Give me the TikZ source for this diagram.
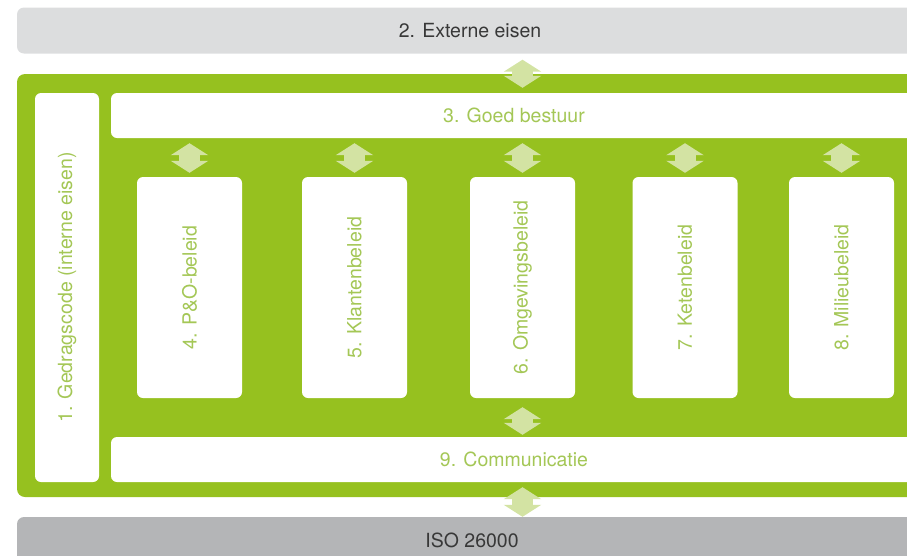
\documentclass[tikz,border=0pt]{standalone}
\usepackage{fontspec}
\setmainfont{TeX Gyre Heros}
\usepackage{tikz}
\usetikzlibrary{arrows.meta}
\usetikzlibrary{calc}
\definecolor{panelgreen}{HTML}{96C11F}
\definecolor{textgreen}{HTML}{A4C756}
\definecolor{arrowgreen}{HTML}{D3E3A3}
\definecolor{lightbar}{HTML}{DCDDDE}
\definecolor{darkbar}{HTML}{B4B5B7}
\definecolor{bartext}{HTML}{383838}
\newcommand{\labelfont}{\fontsize{19.5}{22}\selectfont}

\begin{document}
\begin{tikzpicture}[
    x=1pt, y=-1pt,
    every node/.style={inner sep=0pt, font=\labelfont},
    bar/.style={rounded corners=7pt, minimum height=46pt, text=bartext},
    whitebox/.style={fill=white, rounded corners=6pt, text=textgreen},
    strip/.style={whitebox, minimum height=45pt},
    policy/.style={whitebox, minimum width=105pt, minimum height=221pt},
    dblarrow/.style={arrowgreen, line width=21pt,
        {Triangle[width=37pt,length=12pt]}-{Triangle[width=37pt,length=12pt]}}
    ]

    \clip (0,0) rectangle (907,555);

    % outer bars
    \node[bar, fill=lightbar, minimum width=906pt] (externe) at (470,30.5) {2. Externe eisen};
    \node[bar, fill=darkbar, minimum width=910pt] (iso) at (472,540) {ISO 26000};
    % green panel
    \node[fill=panelgreen, rounded corners=8pt, minimum width=910pt, minimum height=423pt] (panel) at (472,285.5) {};
    % white strips
    \node[whitebox, minimum width=64pt, minimum height=389pt] (gedrag) at (67,287.5)
        {\rotatebox{90}{1. Gedragscode (interne eisen)}};
    \node[strip, minimum width=806pt] (bestuur) at (514,115.5) {3. Goed bestuur};
    \node[strip, minimum width=806pt] (communicatie) at (514,459.5) {9. Communicatie};
    % policy boxes
    \node[policy] (po) at (189.5,287.5) {\rotatebox{90}{4. P\&O-beleid}};
    \node[policy] (klanten) at (354.5,287.5) {\rotatebox{90}{5. Klantenbeleid}};
    \node[policy] (omgeving) at (522.5,287.5) {\rotatebox{90}{6. Omgevingsbeleid}};
    \node[policy] (keten) at (685,287.5) {\rotatebox{90}{7. Ketenbeleid}};
    \node[policy] (milieu) at (841.5,287.5) {\rotatebox{90}{8. Milieubeleid}};

    % double arrows
    \draw[dblarrow, shorten <=6pt, shorten >=5pt] (externe.south -| omgeving) -- (bestuur.north -| omgeving);
    \draw[dblarrow, shorten <=5pt, shorten >=4pt] (bestuur.south -| po) -- (po.north);
    \draw[dblarrow, shorten <=5pt, shorten >=4pt] (bestuur.south -| klanten) -- (klanten.north);
    \draw[dblarrow, shorten <=5pt, shorten >=4pt] (bestuur.south -| omgeving) -- (omgeving.north);
    \draw[dblarrow, shorten <=5pt, shorten >=4pt] (bestuur.south -| keten) -- (keten.north);
    \draw[dblarrow, shorten <=5pt, shorten >=4pt] (bestuur.south -| milieu) -- (milieu.north);
    \draw[dblarrow, shorten <=9pt, shorten >=2pt] (omgeving.south) -- (communicatie.north -| omgeving);
    \draw[dblarrow, shorten <=5pt, shorten >=0pt] (communicatie.south -| omgeving) -- (iso.north -| omgeving);
\end{tikzpicture}
\end{document}
